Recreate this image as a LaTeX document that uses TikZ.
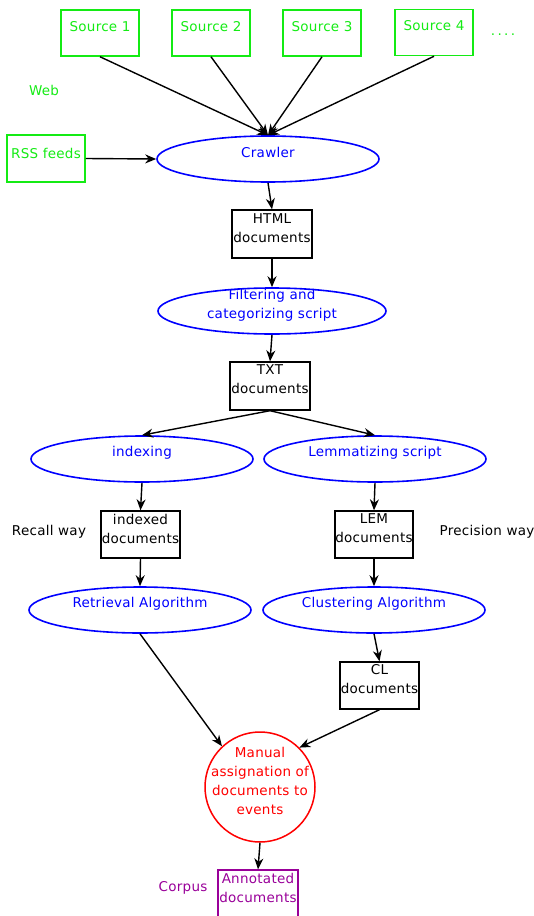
\documentclass[tikz,border=0pt]{standalone}
\usepackage{fontspec}
\setmainfont{DejaVu Sans}[LetterSpace=2]
\usepackage{tikz}
\usetikzlibrary{shapes.geometric}
\usetikzlibrary{arrows.meta}
\definecolor{webgreen}{RGB}{20,235,20}
\definecolor{procblue}{RGB}{0,0,255}
\definecolor{corpuspurple}{RGB}{153,0,153}

\begin{document}
\begin{tikzpicture}[x=1pt,y=-1pt,
  every node/.style={font=\fontsize{13.5}{19}\selectfont, align=center},
  src/.style={draw=webgreen, line width=1.5pt, minimum width=78, minimum height=46, inner sep=0},
  doc/.style={draw=black, line width=1.4pt, minimum width=79, minimum height=47, inner sep=0},
  proc/.style={draw=procblue, ellipse, line width=1.6pt, minimum width=222, minimum height=46, inner sep=0},
  lbl/.style={inner sep=0},
  flow/.style={line width=1.4pt, -{Stealth[length=11pt,width=9pt]}}]
\useasboundingbox (0,0) rectangle (533,916);
% sources on the web
\node[src] (s1) at (100,33) {};
\node[src] (s2) at (211,33) {};
\node[src] (s3) at (322,33) {};
\node[src] (s4) at (434,32.5) {};
\node[lbl, text=webgreen] (s1t) at (100,27) {Source 1};
\node[lbl, text=webgreen] (s2t) at (211,27) {Source 2};
\node[lbl, text=webgreen] (s3t) at (322,27) {Source 3};
\node[lbl, text=webgreen] (s4t) at (434,26) {Source 4};
\node[lbl, text=webgreen, anchor=base] (more) at (503,35) {.\kern2.4pt.\kern2.4pt.\kern2.4pt.};
\node[lbl, text=webgreen] (web) at (44,90) {Web};
\node[src, minimum height=47] (rss) at (46,158.5) {};
\node[lbl, text=webgreen] (rsst) at (46,153) {RSS feeds};
% crawling and filtering
\node[proc] (crawler) at (268,159) {};
\node[lbl, text=procblue] (crawlert) at (268,152) {Crawler};
\node[doc, minimum width=80, minimum height=48] (html) at (272,234) {};
\node[lbl] (htmlt) at (272,228.5) {HTML\\documents};
\node[proc, minimum width=228] (filt) at (272,311) {};
\node[lbl, text=procblue] (filtt) at (272,305.5) {Filtering and\\categorizing script};
\node[doc, minimum width=80, minimum height=48] (txt) at (270,386) {};
\node[lbl] (txtt) at (270,379.5) {TXT\\documents};
% recall way
\node[proc] (idx) at (142,459) {};
\node[lbl, text=procblue] (idxt) at (142,453) {indexing};
\node[doc] (idxdoc) at (140.5,534.5) {};
\node[lbl] (idxdoct) at (140.5,528.5) {indexed\\documents};
\node[lbl] (recall) at (49,532) {Recall way};
\node[proc] (retr) at (140,610) {};
\node[lbl, text=procblue] (retrt) at (140,604) {Retrieval Algorithm};
% precision way
\node[proc] (lem) at (375,459) {};
\node[lbl, text=procblue] (lemt) at (375,453) {Lemmatizing script};
\node[doc, minimum width=78] (lemdoc) at (374,534.5) {};
\node[lbl] (lemdoct) at (374,528.5) {LEM\\documents};
\node[lbl] (precision) at (487,532) {Precision way};
\node[proc] (clus) at (374,610) {};
\node[lbl, text=procblue] (clust) at (374,604) {Clustering Algorithm};
\node[doc] (cl) at (379.5,685.5) {};
\node[lbl] (clt) at (379.5,679.5) {CL\\documents};
% manual step and corpus
\node[draw=red, circle, line width=1.5pt, minimum size=110, inner sep=0] (manual) at (260,787) {};
\node[lbl, text=red] (manualt) at (260,780.5) {Manual\\assignation of\\documents to\\events};
\node[draw=corpuspurple, line width=1.4pt, minimum width=80, minimum height=48, inner sep=0] (annot) at (258,894) {};
\node[lbl, text=corpuspurple] (annott) at (258,887.5) {Annotated\\documents};
\node[lbl, text=corpuspurple] (corpus) at (183,888) {Corpus};
% connectors
\draw[flow] (s1.south) -- (crawler.north);
\draw[flow] (s2.south) -- (crawler.north);
\draw[flow] (s3.south) -- (crawler.north);
\draw[flow] (s4.south) -- (crawler.north);
\draw[flow] (rss.east) -- (crawler.west);
\draw[flow] (crawler.south) -- (html.north);
\draw[flow] (html.south) -- (filt.north);
\draw[flow] (filt.south) -- (txt.north);
\draw[flow] (txt.south) -- (idx.north);
\draw[flow] (txt.south) -- (lem.north);
\draw[flow] (idx.south) -- (idxdoc.north);
\draw[flow] (idxdoc.south) -- (retr.north);
\draw[flow] (lem.south) -- (lemdoc.north);
\draw[flow] (lemdoc.south) -- (clus.north);
\draw[flow] (clus.south) -- (cl.north);
\draw[flow] (retr.south) -- (manual.133);
\draw[flow] (cl.south) -- (manual.45);
\draw[flow] (manual.south) -- (annot.north);
\end{tikzpicture}
\end{document}
